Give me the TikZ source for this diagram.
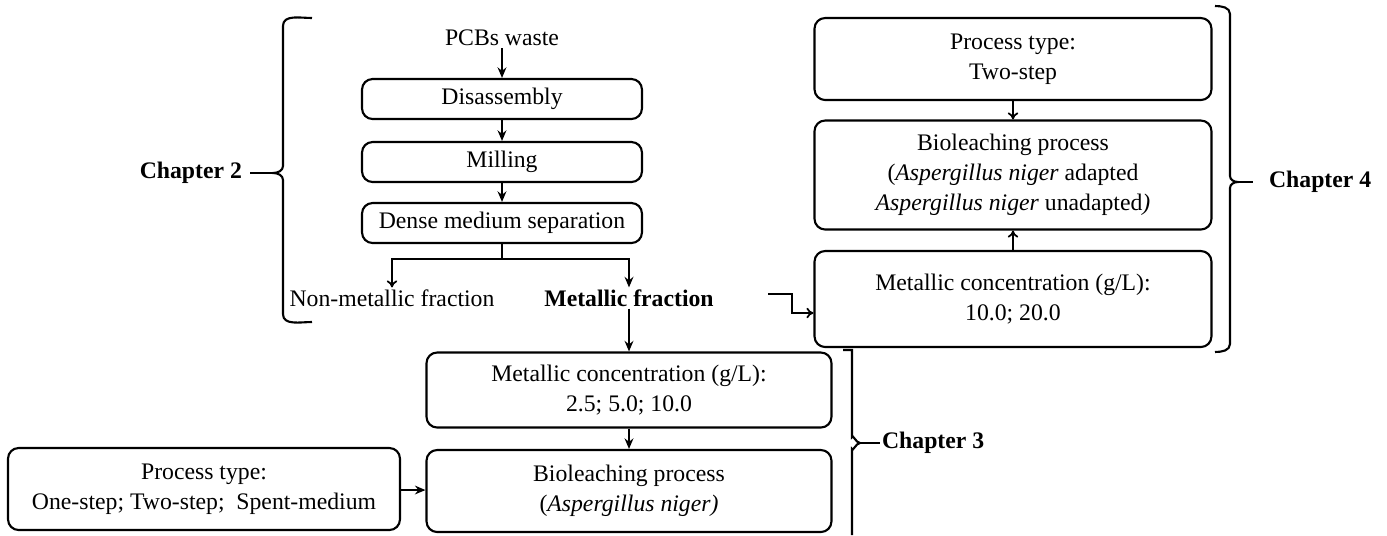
\documentclass[tikz,border=0pt]{standalone}
\usepackage{fontspec}
\setmainfont{Liberation Serif}
\usepackage{tikz}
\usetikzlibrary{arrows.meta, positioning, calc}

\begin{document}
\begin{tikzpicture}[
    x=0.02cm, y=-0.02cm,
    stepbox/.style={rectangle, rounded corners=6pt, draw=black, line width=1.2pt,
        align=center, font=\fontsize{13.5}{17}\selectfont, inner sep=2pt},
    plain/.style={align=center, font=\fontsize{13.5}{17}\selectfont, inner sep=1pt},
    chap/.style={font=\fontsize{13.5}{17}\selectfont\bfseries, inner sep=1pt},
    arr/.style={-{Stealth[length=6pt, width=5pt]}, line width=1pt},
    arro/.style={-{To[length=4pt, width=6pt]}, line width=1pt},
    brace/.style={line width=1.2pt}
]
    \useasboundingbox (0,0) rectangle (1387,535);

    % === chapter 2: pretreatment ===
    \node[plain] (pcb) at (502,38) {PCBs waste};
    \node[stepbox, minimum width=5.6cm, minimum height=0.8cm] (dis) at (502,99) {Disassembly};
    \node[stepbox, minimum width=5.6cm, minimum height=0.8cm] (mil) at (502,162) {Milling};
    \node[stepbox, minimum width=5.6cm, minimum height=0.8cm] (dms) at (502,223) {Dense medium separation};
    \node[plain] (nmf) at (392,298) {Non-metallic fraction};
    \node[plain, font=\fontsize{13.5}{17}\selectfont\bfseries] (mf) at (629,298) {Metallic fraction};
    \coordinate (split) at (502,259);

    \draw[arr] (pcb) -- (dis);
    \draw[arr] (dis) -- (mil);
    \draw[arr] (mil) -- (dms);
    \draw[line width=1pt] (dms.south) -- (split);
    \draw[arro] (split) -| (nmf.north);
    \draw[arr] (split) -| (mf.north);

    % === chapter 3 ===
    \node[stepbox, minimum width=8.1cm, minimum height=1.5cm] (mconc) at (629,390)
        {Metallic concentration (g/L):\\2.5; 5.0; 10.0};
    \node[stepbox, minimum width=8.1cm, minimum height=1.64cm] (mbio) at (629,491)
        {Bioleaching process\\(\textit{Aspergillus niger)}};
    \node[stepbox, minimum width=7.84cm, minimum height=1.64cm] (ptype) at (204,489)
        {Process type:\\One-step; Two-step;\ \ Spent-medium};

    \draw[arr] (mf) -- (mconc);
    \draw[arr] (mconc) -- (mbio);
    \draw[arr] (ptype) -- (mbio);

    % === chapter 4 ===
    \node[stepbox, minimum width=7.94cm, minimum height=1.64cm] (rtype) at (1013,59)
        {Process type:\\Two-step};
    \node[stepbox, minimum width=7.94cm, minimum height=2.18cm] (rbio) at (1013,175)
        {Bioleaching process\\(\textit{Aspergillus niger} adapted\\\textit{Aspergillus niger} unadapted\textit{)}};
    \node[stepbox, minimum width=7.94cm, minimum height=1.92cm] (rconc) at (1013,299)
        {Metallic concentration (g/L):\\10.0; 20.0};

    \draw[arro] (rtype) -- (rbio);
    \draw[arro] (rconc) -- (rbio);
    \coordinate (mfa) at (768,294);
    \draw[arro] (mfa) -- ++(24,0) |- ([yshift=-0.28cm]rconc.west);

    % --- braces ---
    \node[chap, anchor=east] (ch2) at (244,173) {Chapter 2};
    \draw[brace] (312,18) to[out=180, in=90] (283,26) -- (283,166)
        to[out=-90, in=0] (273,173) to[out=0, in=90] (283,180) -- (283,314)
        to[out=-90, in=180] (312,322);
    \draw[brace] (ch2.east) ++(6,0) -- (273,173);

    \node[chap, anchor=west] (ch3) at (880,443) {Chapter 3};
    \draw[brace] (843,350) -- (852,350) -- (852,437) to[out=90, in=180] (860,443)
        to[out=180, in=-90] (852,449) -- (852,535);
    \draw[brace] (860,443) -- (ch3.west);

    \node[chap, anchor=west] (ch4) at (1267,182) {Chapter 4};
    \draw[brace] (1215,6) to[out=0, in=90] (1230,14) -- (1230,176)
        to[out=-90, in=180] (1238,182) to[out=180, in=90] (1230,188) -- (1230,344)
        to[out=-90, in=0] (1215,352);
    \draw[brace] (1238,182) -- ++(15,0);
\end{tikzpicture}
\end{document}
